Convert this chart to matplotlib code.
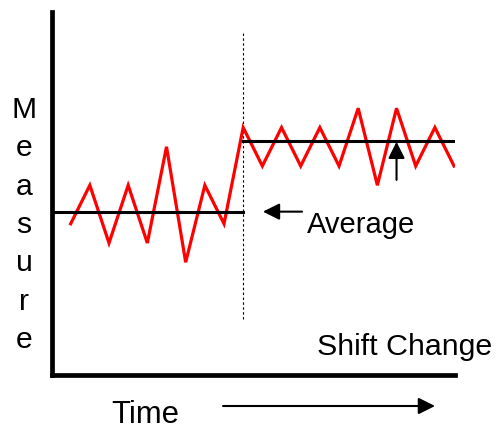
import matplotlib
matplotlib.use("Agg")
import matplotlib.pyplot as plt

# ---- data ----
measure = [8, 10, 7, 10, 7, 12, 6, 10, 8, 13,
           11, 13, 11, 13, 11, 14, 10, 14, 11, 13, 11]
shift_index = 9
avg_before = 8.63
avg_after = 12.32
ylabel_text = "Measure"
xlabel_text = "Time"
shift_label = "Shift Change"
avg_label = "Average"

W, H = 497, 430
plt.rcParams['font.family'] = ['Liberation Sans', 'DejaVu Sans']
fig = plt.figure(figsize=(W / 100, H / 100), dpi=100)
ax = fig.add_axes([51.5 / W, (H - 375) / H, (455 - 51.5) / W, (375 - 12) / H])

x = list(range(len(measure)))
ax.plot(x, measure, color='#ff0000', lw=2.3, solid_joinstyle='miter', zorder=3)

xmin, xmax = -1.0, 20.05
ax.set_xlim(xmin, xmax)
ax.set_ylim(0.145, 19.0)

ax.plot([xmin, shift_index], [avg_before, avg_before], color='black', lw=2.2, zorder=4)
ax.plot([shift_index, xmax], [avg_after, avg_after], color='black', lw=2.2, zorder=4)
ax.plot([shift_index, shift_index], [3.05, 18.02], color='black', lw=0.8,
        linestyle=(0, (2.2, 2.2)), zorder=2)

for s in ['top', 'right']:
    ax.spines[s].set_visible(False)
for s in ['left', 'bottom']:
    ax.spines[s].set_linewidth(3.4)
    ax.spines[s].set_color('black')
ax.set_xticks([])
ax.set_yticks([])

ap = dict(arrowstyle='-|>', lw=1.5, color='black', mutation_scale=25,
          shrinkA=0, shrinkB=0)
# arrow pointing to first average
ax.annotate('', xy=(10.03, avg_before), xytext=(12.07, avg_before), arrowprops=ap)
# arrow pointing up to second average
ax.annotate('', xy=(17.0, 12.26), xytext=(17.0, 10.28), arrowprops=ap)
# time arrow
fig.patches.append(matplotlib.patches.FancyArrowPatch(
    (223 / W, (H - 406) / H), (435 / W, (H - 406) / H),
    transform=fig.transFigure, **ap))

def ftext(px, py, s, size, ha='left'):
    fig.text(px / W, (H - py) / H, s, fontsize=size, ha=ha, va='baseline',
             color='black')

ftext(316.7, 355, shift_label, 21.9)
ftext(111.7, 423, xlabel_text, 22.3)
ftext(306.7, 233.3, avg_label, 21)
for k, ch in enumerate(ylabel_text):
    ftext(24, 118 + 38.33 * k, ch, 21.7, ha='center')

fig.savefig('out.png', dpi=100)
